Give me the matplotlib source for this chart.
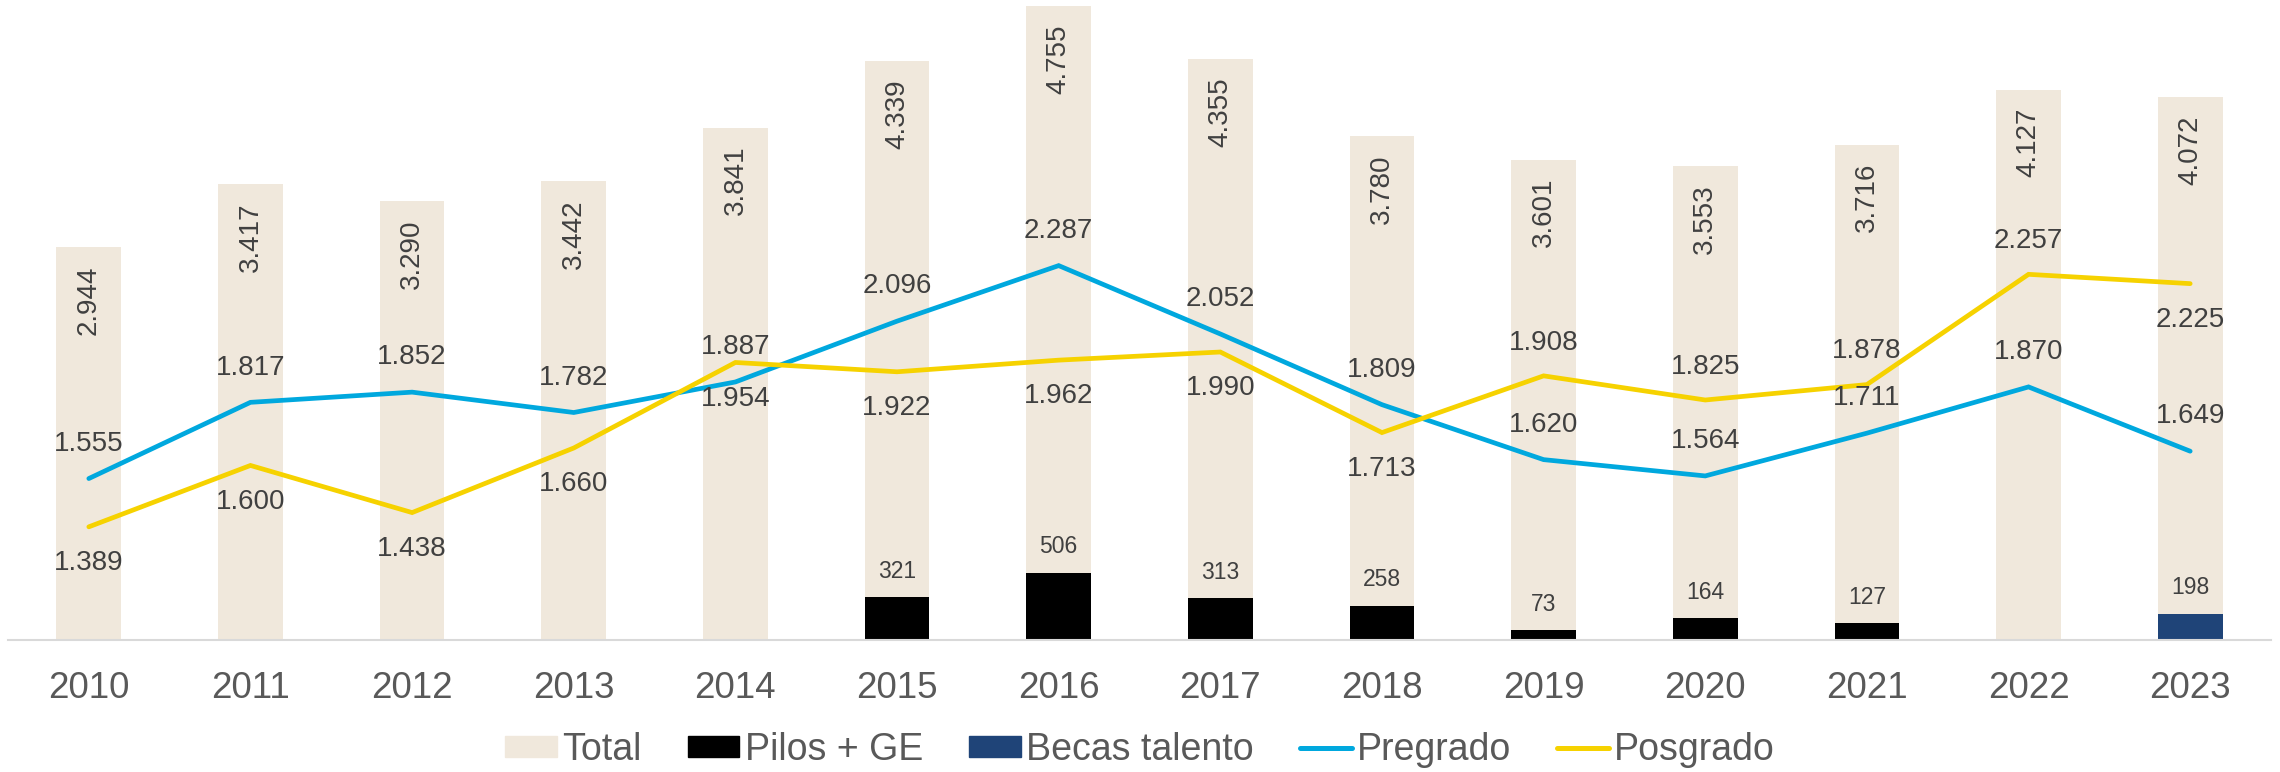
import matplotlib
matplotlib.use("Agg")
import matplotlib.pyplot as plt
from matplotlib.patches import Patch
from matplotlib.lines import Line2D

plt.rcParams['font.family'] = ['Liberation Sans', 'DejaVu Sans']

# Datos por año
anios = ['2010', '2011', '2012', '2013', '2014', '2015', '2016',
         '2017', '2018', '2019', '2020', '2021', '2022', '2023']
total = [2944, 3417, 3290, 3442, 3841, 4339, 4755, 4355, 3780, 3601, 3553, 3716, 4127, 4072]
pilos_ge = [None, None, None, None, None, 321, 506, 313, 258, 73, 164, 127, None, None]
becas_talento = [None] * 13 + [198]
pregrado = [1555, 1817, 1852, 1782, 1887, 2096, 2287, 2052, 1809, 1620, 1564, 1711, 1870, 1649]
posgrado = [1389, 1600, 1438, 1660, 1954, 1922, 1962, 1990, 1713, 1908, 1825, 1878, 2257, 2225]

# posición de la etiqueta de posgrado (1 arriba, -1 abajo)
pos_etq_posgrado = [-1, -1, -1, -1, -1, -1, -1, -1, -1, 1, 1, 1, 1, -1]

C_TOTAL = '#F0E8DC'
C_PILOS = '#000000'
C_BECAS = '#1F4478'
C_PRE = '#00A8DE'
C_POS = '#F6D200'
C_TXT = '#404040'
C_EJE = '#595959'


def fmt(v):
    return f"{v:,}".replace(',', '.')


fig = plt.figure(figsize=(22.8, 7.72), dpi=100)
ax = fig.add_axes([8 / 2280, 132 / 772, 2263 / 2280, 640 / 772])
x = list(range(len(anios)))
ancho = 0.40

ax.bar(x, total, width=ancho, color=C_TOTAL, zorder=1)
for i, v in enumerate(pilos_ge):
    if v is not None:
        ax.bar(i, v, width=ancho, color=C_PILOS, zorder=2)
        ax.annotate(fmt(v), (i, v), xytext=(0, 18.5), textcoords='offset points',
                    ha='center', va='center', fontsize=16.5, color=C_TXT)
for i, v in enumerate(becas_talento):
    if v is not None:
        ax.bar(i, v, width=ancho, color=C_BECAS, zorder=2)
        ax.annotate(fmt(v), (i, v), xytext=(0, 18.5), textcoords='offset points',
                    ha='center', va='center', fontsize=16.5, color=C_TXT)
for i, v in enumerate(total):
    ax.annotate(fmt(v), (i, v), xytext=(0, -38), textcoords='offset points',
                ha='center', va='center', rotation=90, fontsize=20, color=C_TXT)

ax.set_xlim(-0.5, len(anios) - 0.5)
ax.set_ylim(0, 4800)
ax.set_xticks(x)
ax.set_xticklabels(anios, fontsize=26.5, color=C_EJE)
ax.tick_params(axis='x', length=0, pad=22)
ax.set_yticks([])
for s in ['top', 'right', 'left']:
    ax.spines[s].set_visible(False)
ax.spines['bottom'].set_color('#D9D9D9')
ax.spines['bottom'].set_linewidth(1.5)
ax.spines['bottom'].set_zorder(3)

ax2 = ax.twinx()
ax2.set_ylim(1000, 3200)
ax2.plot(x, pregrado, color=C_PRE, lw=3.4, solid_capstyle='round', solid_joinstyle='miter')
ax2.plot(x, posgrado, color=C_POS, lw=3.4, solid_capstyle='round', solid_joinstyle='miter')
for i, v in enumerate(pregrado):
    ax2.annotate(fmt(v), (i, v), xytext=(0, 25), textcoords='offset points',
                 ha='center', va='center', fontsize=20, color=C_TXT)
for i, v in enumerate(posgrado):
    off = 24 if pos_etq_posgrado[i] > 0 else -26
    ax2.annotate(fmt(v), (i, v), xytext=(0, off), textcoords='offset points',
                 ha='center', va='center', fontsize=20, color=C_TXT)
ax2.set_yticks([])
for s in ['top', 'right', 'left', 'bottom']:
    ax2.spines[s].set_visible(False)

handles = [
    Patch(color=C_TOTAL, label='Total'),
    Patch(color=C_PILOS, label='Pilos + GE'),
    Patch(color=C_BECAS, label='Becas talento'),
    Line2D([], [], color=C_PRE, lw=3.6, solid_capstyle='round', label='Pregrado'),
    Line2D([], [], color=C_POS, lw=3.6, solid_capstyle='round', label='Posgrado'),
]
leg = fig.legend(handles=handles, loc='center', bbox_to_anchor=(0.5, 22 / 772), ncol=5,
                 frameon=False, fontsize=27, handlelength=1.38, handleheight=0.48,
                 handletextpad=0.14, columnspacing=1.23)
for t in leg.get_texts():
    t.set_color(C_EJE)

fig.savefig('out.png', dpi=100)
